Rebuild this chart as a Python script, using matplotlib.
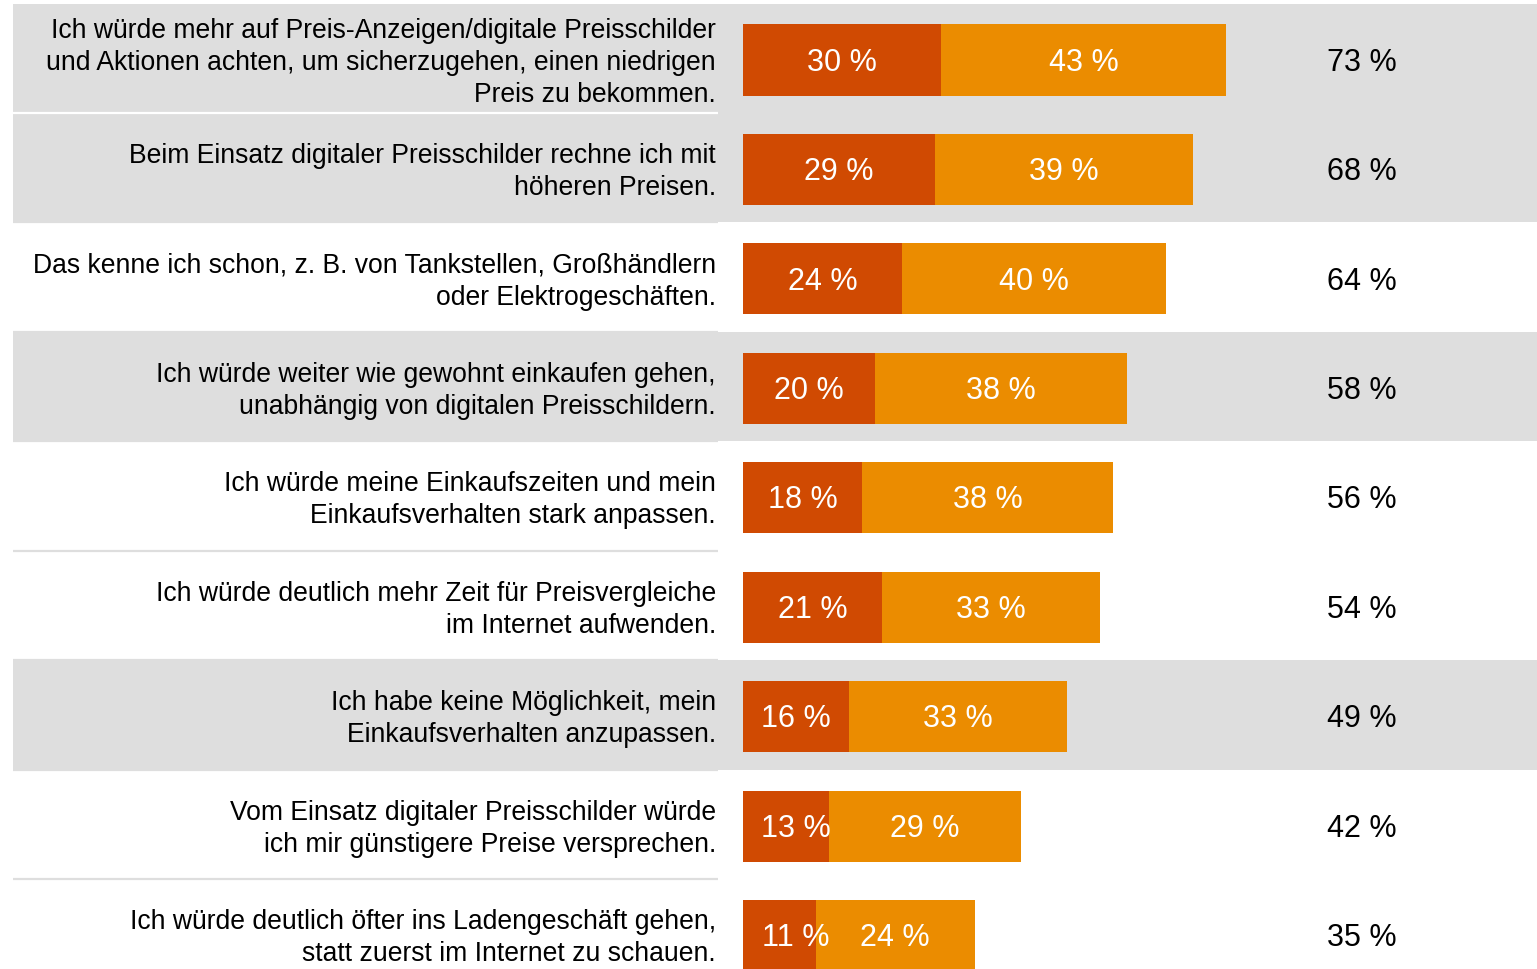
import matplotlib
matplotlib.use('Agg')
import matplotlib.pyplot as plt

plt.rcParams['font.family'] = ['Liberation Sans', 'DejaVu Sans']

# data
labels = [
    'Ich würde mehr auf Preis-Anzeigen/digitale Preisschilder\nund Aktionen achten, um sicherzugehen, einen niedrigen\nPreis zu bekommen.',
    'Beim Einsatz digitaler Preisschilder rechne ich mit\nhöheren Preisen.',
    'Das kenne ich schon, z. B. von Tankstellen, Großhändlern\noder Elektrogeschäften.',
    'Ich würde weiter wie gewohnt einkaufen gehen,\nunabhängig von digitalen Preisschildern.',
    'Ich würde meine Einkaufszeiten und mein\nEinkaufsverhalten stark anpassen.',
    'Ich würde deutlich mehr Zeit für Preisvergleiche\nim Internet aufwenden.',
    'Ich habe keine Möglichkeit, mein\nEinkaufsverhalten anzupassen.',
    'Vom Einsatz digitaler Preisschilder würde\nich mir günstigere Preise versprechen.',
    'Ich würde deutlich öfter ins Ladengeschäft gehen,\nstatt zuerst im Internet zu schauen.',
]
strong = [30, 29, 24, 20, 18, 21, 16, 13, 11]
rather = [43, 39, 40, 38, 38, 33, 33, 29, 24]
totals = [73, 68, 64, 58, 56, 54, 49, 42, 35]
shaded = [True, True, False, True, False, False, True, False, False]

DARK = '#D04A02'
LIGHT = '#EB8C00'
GREY = '#DEDEDE'

W, H = 1537, 970
PX_PER_PCT = 6.616
X0 = 743          # pixel where 0 % sits
ROW = 109.45      # row pitch in pixels
TOP = 4.5
SHIFT = 0.016     # bars/text sit a touch below the row centre

fig = plt.figure(figsize=(W / 100, H / 100), dpi=100)
ax = fig.add_axes([0, 0, 1, 1])
ax.set_xlim(-X0 / PX_PER_PCT, (W - X0) / PX_PER_PCT)
first_c = TOP + ROW / 2
ax.set_ylim((H - first_c) / ROW, -first_c / ROW)
ax.axis('off')

lab_x = (716 - X0) / PX_PER_PCT
sep_left = (13 - X0) / PX_PER_PCT
sep_right = (718 - X0) / PX_PER_PCT
tot_x = (1362 - X0) / PX_PER_PCT
n = len(labels)

# shaded rows
for i in range(n):
    if shaded[i]:
        ax.axhspan(i - 0.5, i + 0.5, xmin=13 / W, xmax=1, color=GREY, lw=0, zorder=0)

# separators in label column
for i in range(n - 1):
    col = 'white' if (shaded[i] and shaded[i + 1]) else GREY
    ax.hlines(i + 0.5, sep_left, sep_right, color=col, lw=1.6, zorder=1)

ys = [i + SHIFT for i in range(n)]
ax.barh(ys, strong, height=0.65, color=DARK, zorder=2)
ax.barh(ys, rather, left=strong, height=0.65, color=LIGHT, zorder=2)

for i in range(n):
    y = ys[i] + 0.015
    ax.text(lab_x, y, labels[i], ha='right', va='center', fontsize=19.1,
            linespacing=1.3, color='#000000')
    ax.text(max(strong[i] / 2, 8.0), y, f'{strong[i]} %', ha='center',
            va='center', fontsize=22, color='white', zorder=3)
    ax.text(strong[i] + rather[i] / 2, y, f'{rather[i]} %', ha='center',
            va='center', fontsize=22, color='white', zorder=3)
    ax.text(tot_x, y, f'{totals[i]} %', ha='center', va='center',
            fontsize=22, color='#000000')

fig.savefig('out.png', dpi=100)
